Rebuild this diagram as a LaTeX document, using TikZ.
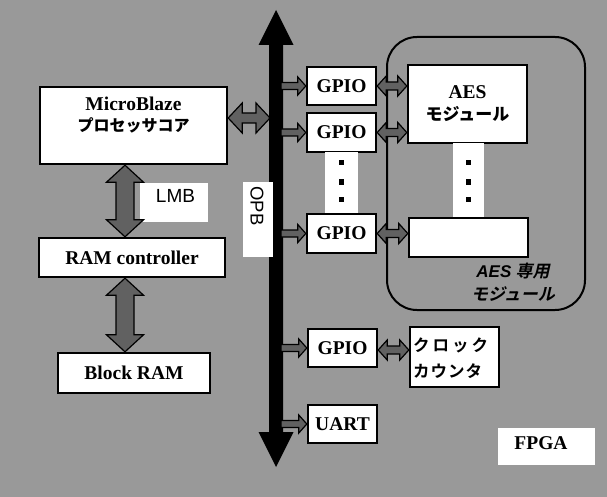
\documentclass[tikz,border=0pt]{standalone}
\usepackage{fontspec}
\setmainfont{Liberation Serif}
\newfontfamily\arialf{Liberation Sans}
\newfontfamily\cjkb{Noto Sans CJK JP Bold}
\newfontfamily\cjkbi{Noto Sans CJK JP Bold}[FakeSlant=0.22]
\usetikzlibrary{calc}
% horizontal double arrow: #2 start, #3 end, #4 shaft half, #5 head half, #6 head length
\newcommand\dharrow[6][]{%
  \path[#1] let \p1=(#2), \p2=(#3) in
  (\x1,\y1) -- (\x1+#6,\y1+#5) -- (\x1+#6,\y1+#4) -- (\x2-#6,\y1+#4) -- (\x2-#6,\y1+#5)
  -- (\x2,\y1) -- (\x2-#6,\y1-#5) -- (\x2-#6,\y1-#4) -- (\x1+#6,\y1-#4) -- (\x1+#6,\y1-#5) -- cycle;}
% horizontal single arrow pointing to #3
\newcommand\rarrow[6][]{%
  \path[#1] let \p1=(#2), \p2=(#3) in
  (\x1,\y1+#4) -- (\x2-#6,\y1+#4) -- (\x2-#6,\y1+#5) -- (\x2,\y1)
  -- (\x2-#6,\y1-#5) -- (\x2-#6,\y1-#4) -- (\x1,\y1-#4) -- cycle;}
% vertical double arrow, #2 top, #3 bottom
\newcommand\vdarrow[6][]{%
  \path[#1] let \p1=(#2), \p2=(#3) in
  (\x1,\y1) -- (\x1+#5,\y1-#6) -- (\x1+#4,\y1-#6) -- (\x1+#4,\y2+#6) -- (\x1+#5,\y2+#6)
  -- (\x1,\y2) -- (\x1-#5,\y2+#6) -- (\x1-#4,\y2+#6) -- (\x1-#4,\y1-#6) -- (\x1-#5,\y1-#6) -- cycle;}
\newcommand\tb{\fontsize{19.5}{20}\selectfont\bfseries}
\tikzset{
  box/.style={draw=black, fill=white, line width=2.4pt, inner sep=0pt},
  lbl/.style={fill=white, inner sep=0pt},
  garrow/.style={draw=black, fill=black!62, line width=1.2pt, line join=miter},
  dotsq/.style={fill=black},
}
\begin{document}
\begin{tikzpicture}[x=1pt,y=-1pt]
\fill[black!40] (0,0) rectangle (607,497);
\useasboundingbox (0,0) rectangle (607,497);

% AES group frame
\node[draw=black, line width=2pt, rounded corners=30pt, minimum width=198pt, minimum height=273pt, inner sep=0pt] (grp) at (486,173.5) {};

% OPB bus
\coordinate (bustop) at (276,10);
\coordinate (busbot) at (276,467);
\coordinate (busl) at (270,0);
\coordinate (busr) at (281,0);
\vdarrow[fill=black]{bustop}{busbot}{7pt}{17.5pt}{35pt}

% boxes
\node[box, minimum width=187pt, minimum height=77pt] (mb) at (133.5,125.5) {};
\node[align=center, font=\tb, inner sep=0pt] (mbt) at (133.5,115) {MicroBlaze\\[1pt]{\cjkb\fontsize{16}{18}\selectfont プロセッサコア}};
\node[box, minimum width=186pt, minimum height=39pt, font=\tb] (ramc) at (132,257.5) {RAM controller};
\node[box, minimum width=152pt, minimum height=40pt, font=\tb] (bram) at (134,373) {Block RAM};

\node[box, minimum width=69pt, minimum height=38pt, font=\tb] (g1) at (341.5,86) {GPIO};
\node[box, minimum width=69pt, minimum height=39pt, font=\tb] (g2) at (341.5,132.5) {GPIO};
\node[lbl, minimum width=33pt, minimum height=62pt] (gdots) at (341.5,183.5) {};
\node[box, minimum width=69pt, minimum height=39pt, font=\tb] (g3) at (341.5,233.5) {GPIO};
\node[box, minimum width=69pt, minimum height=38pt, font=\tb] (g4) at (342.5,348) {GPIO};
\node[box, minimum width=69pt, minimum height=38pt, font=\tb] (uart) at (342.5,424) {UART};

\node[box, minimum width=119pt, minimum height=78pt] (aes) at (467.5,104) {};
\node[align=center, font=\tb, inner sep=0pt] (aest) at (467.5,104) {AES\\[2pt]{\cjkb\fontsize{17}{18}\selectfont モジュール}};
\node[lbl, minimum width=31pt, minimum height=75pt] (adots) at (468.5,180.5) {};
\node[box, minimum width=119pt, minimum height=39pt] (blank) at (468.5,237.5) {};
\node[box, minimum width=89pt, minimum height=60pt] (clock) at (454.5,357) {};
\node[anchor=west, align=left, inner sep=0pt, font=\cjkb\fontsize{16.5}{26}\selectfont] (clockt) at (413,358)
  {ク\kern3ptロ\kern3ptッ\kern3ptク\\カ\kern1ptウ\kern1ptン\kern1ptタ};

% dots
\foreach \yy in {163,182,199} {
  \fill[dotsq] (339,\yy-2.5) rectangle ++(5,5);
  \fill[dotsq] (466,\yy-2.5) rectangle ++(5,5);
}

% labels
\node[lbl, minimum width=68pt, minimum height=39pt] (lmb) at (174,202.5) {};
\node[font=\arialf\fontsize{19}{19}\selectfont, inner sep=0pt] (lmbt) at (175.5,196) {LMB};
\node[lbl, minimum width=30pt, minimum height=75pt] (opb) at (257.5,219.5) {};
\node[rotate=-90, font=\arialf\fontsize{18.5}{19}\selectfont, inner sep=0pt] (opbt) at (257,206) {OPB};
\node[lbl, minimum width=97pt, minimum height=37pt] (fpga) at (546.5,446.5) {};
\node[font=\tb, inner sep=0pt] (fpgat) at (541,443) {FPGA};

\node[align=center, inner sep=0pt, font=\fontsize{17}{23}\selectfont] (grpt) at (513,282)
  {{\arialf\bfseries\itshape AES} {\cjkbi 専用}\\{\cjkbi モジュール}};

% connectors
\dharrow[garrow]{$(mb.east)+(0,-7.5)$}{mb.east -| busl}{5pt}{15pt}{14pt}
\vdarrow[garrow]{mb.south -| 125,0}{ramc.north -| 125,0}{9pt}{18.5pt}{17pt}
\vdarrow[garrow]{ramc.south -| 125,0}{bram.north -| 125,0}{9pt}{18.5pt}{17pt}

\foreach \g in {g1,g2,g3,g4,uart} {
  \rarrow[garrow]{\g.west -| busr}{\g.west}{3.5pt}{9pt}{8pt}
}
\dharrow[garrow]{g1.east}{g1.east -| aes.west}{4pt}{10pt}{9pt}
\dharrow[garrow]{g2.east}{g2.east -| aes.west}{4pt}{10pt}{9pt}
\dharrow[garrow]{g3.east}{g3.east -| blank.west}{4pt}{10pt}{9pt}
\dharrow[garrow]{$(g4.east)+(0,2)$}{g4.east -| clock.west}{4pt}{10pt}{9pt}
\end{tikzpicture}
\end{document}
